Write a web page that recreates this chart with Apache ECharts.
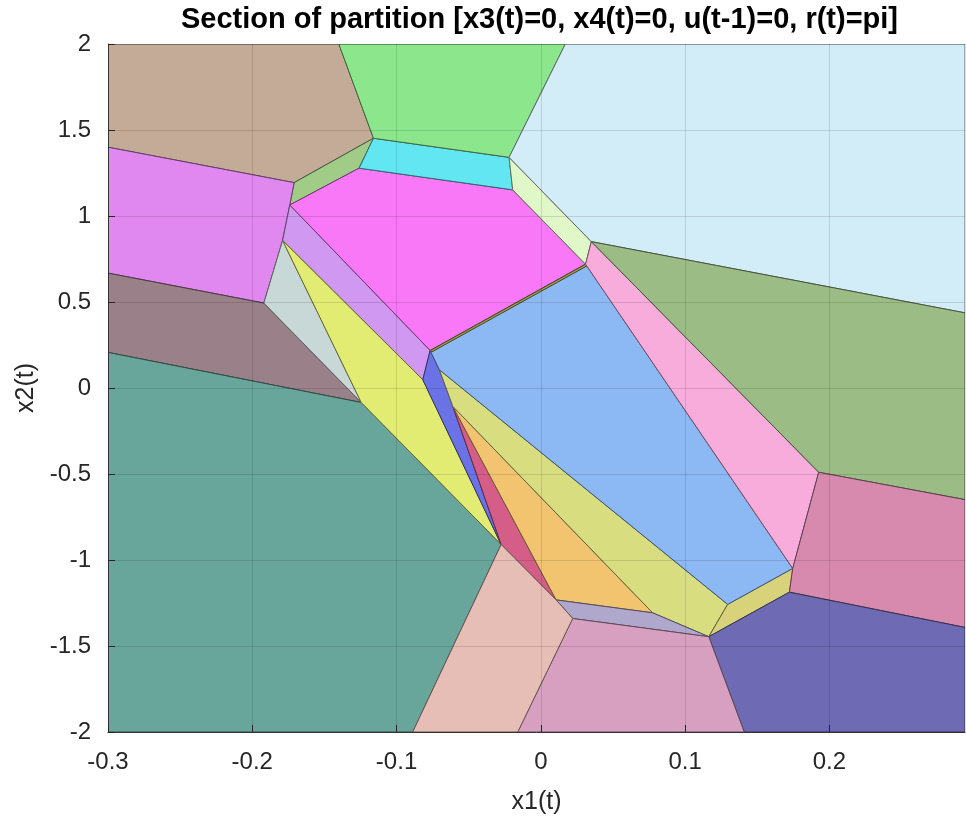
<!DOCTYPE html>
<html>
<head>
<meta charset="utf-8">
<title>Section of partition</title>
<script src="https://cdn.jsdelivr.net/npm/echarts@6/dist/echarts.min.js"></script>
<style>
  html, body { margin: 0; padding: 0; background: #fff; }
  #chart { width: 966px; height: 817px; }
</style>
</head>
<body>
<div id="chart"></div>
<script>
// axis ranges and ticks
const xRange = [-0.3, 0.294];
const yRange = [-2, 2];
const xTickStep = 0.1;
const yTickStep = 0.5;

// region vertices [x1, x2]
const rBrown = [[-0.3, 2], [-0.140, 2], [-0.116, 1.452], [-0.171, 1.194], [-0.3, 1.400]];
const rGreenSliver = [[-0.116, 1.452], [-0.126, 1.278], [-0.174, 1.064], [-0.171, 1.194]];
const rViolet = [[-0.3, 1.400], [-0.171, 1.194], [-0.174, 1.064], [-0.179, 0.858], [-0.192, 0.494], [-0.3, 0.668]];
const rMauve = [[-0.3, 0.668], [-0.192, 0.494], [-0.1245, -0.084], [-0.3, 0.207]];
const rTeal = [[-0.3, 0.207], [-0.1245, -0.084], [-0.0275, -0.910], [-0.0888, -2], [-0.3, -2]];
const rGray = [[-0.179, 0.858], [-0.192, 0.494], [-0.1245, -0.084]];
const rLavender = [[-0.174, 1.064], [-0.0767, 0.218], [-0.0818, 0.048], [-0.179, 0.858]];
const rYellow = [[-0.179, 0.858], [-0.0818, 0.048], [-0.0275, -0.910], [-0.1245, -0.084]];
const rBlue = [[-0.0767, 0.218], [-0.0703, 0.106], [-0.061, -0.107], [-0.0275, -0.910], [-0.0818, 0.048]];
const rRed = [[-0.061, -0.107], [0.0106, -1.232], [-0.0275, -0.910]];
const rOrange = [[-0.061, -0.107], [0.0775, -1.307], [0.0106, -1.232]];
const rOlive = [[-0.0703, 0.106], [0.1295, -1.258], [0.1164, -1.446], [0.0775, -1.307], [-0.061, -0.107]];
const rSlate = [[0.0106, -1.232], [0.0775, -1.307], [0.1164, -1.446], [0.0221, -1.340]];
const rOliveQuad = [[0.1295, -1.258], [0.1746, -1.049], [0.1723, -1.187], [0.1164, -1.446]];
const rSkyBlue = [[-0.0767, 0.218], [0.031, 0.720], [0.1746, -1.049], [0.1295, -1.258], [-0.0703, 0.106]];
const rThinLine = [[-0.0767, 0.218], [0.031, 0.720], [0.032, 0.710], [-0.0755, 0.210]];
const rMagenta = [[-0.174, 1.064], [-0.126, 1.278], [-0.0195, 1.152], [0.031, 0.720], [-0.0767, 0.218]];
const rCyan = [[-0.116, 1.452], [-0.022, 1.341], [-0.0195, 1.152], [-0.126, 1.278]];
const rGreenTop = [[-0.140, 2], [0.017, 2], [-0.022, 1.341], [-0.116, 1.452]];
const rPaleGreen = [[-0.022, 1.341], [0.035, 0.851], [0.031, 0.720], [-0.0195, 1.152]];
const rPaleSky = [[0.017, 2], [0.294, 2], [0.294, 0.437], [0.035, 0.851], [-0.022, 1.341]];
const rPink = [[0.035, 0.851], [0.1926, -0.490], [0.1746, -1.049], [0.031, 0.720]];
const rGreenRight = [[0.035, 0.851], [0.294, 0.437], [0.294, -0.649], [0.1926, -0.490]];
const rRose = [[0.1926, -0.490], [0.294, -0.649], [0.294, -1.392], [0.1723, -1.187], [0.1746, -1.049]];
const rPurple = [[0.1723, -1.187], [0.294, -1.392], [0.294, -2], [0.141, -2], [0.1164, -1.446]];
const rPinkBottom = [[0.0221, -1.340], [0.1164, -1.446], [0.141, -2], [-0.016, -2]];
const rBeige = [[-0.0275, -0.910], [0.0106, -1.232], [0.0221, -1.340], [-0.016, -2], [-0.0888, -2]];

const regionList = [
  rBrown, rGreenSliver, rViolet, rMauve, rTeal, rGray, rLavender, rYellow, rBlue, rRed,
  rOrange, rOlive, rSlate, rOliveQuad, rSkyBlue, rMagenta, rThinLine, rCyan, rGreenTop,
  rPaleGreen, rPaleSky, rPink, rGreenRight, rRose, rPurple, rPinkBottom, rBeige
];

const regionColors = [
  "#C3AB98", "#A0CC88", "#E088F0", "#9A8088", "#68A69C", "#C8D8D6", "#D098F0", "#E2EC72", "#6A72E6", "#D45E88",
  "#F2C470", "#D8DE80", "#B0A8CC", "#D8D27A", "#8CB8F4", "#F878F8", "#9C9C50", "#62E6F2", "#8CE68C",
  "#E0F8C8", "#D2ECF8", "#F8ACDC", "#9BBC84", "#D88AAE", "#6E6AB4", "#D8A0C0", "#E6BEB6"
];

// edge colour: the face colour, darkened
function darker(hex, k) {
  let c = echarts.color.parse(hex);
  return "rgb(" + Math.round(c[0] * k) + "," + Math.round(c[1] * k) + "," + Math.round(c[2] * k) + ")";
}

function fmt(v) {
  return String(Math.round(v * 10) / 10);
}

var chart = echarts.init(document.getElementById("chart"));

let option = {
  animation: false,
  title: {
    text: "Section of partition [x3(t)=0, x4(t)=0, u(t-1)=0, r(t)=pi]",
    left: 176,
    top: 0,
    textStyle: {
      fontFamily: "Liberation Sans",
      fontWeight: "bold",
      fontSize: 29,
      color: "#000",
    },
  },
  grid: {
    left: 108,
    right: 1,
    top: 44,
    bottom: 85,
    outerBoundsMode: "none",
  },
  xAxis: {
    type: "value",
    min: xRange[0],
    max: xRange[1],
    interval: xTickStep,
    z: 5,
    name: "x1(t)",
    nameLocation: "middle",
    nameGap: 58,
    nameTextStyle: { fontFamily: "Liberation Sans", fontSize: 25, color: "#262626" },
    axisLine: { show: true, onZero: false, lineStyle: { color: "#333", width: 1 } },
    axisTick: { show: true, inside: true, length: 7, lineStyle: { color: "#262626" } },
    axisLabel: {
      margin: 18,
      showMaxLabel: false,
      fontFamily: "Liberation Sans",
      fontSize: 24,
      color: "#262626",
      formatter: fmt,
    },
    splitLine: { show: true, lineStyle: { color: "rgba(0,0,0,0.12)", width: 1 } },
  },
  yAxis: {
    type: "value",
    min: yRange[0],
    max: yRange[1],
    interval: yTickStep,
    z: 5,
    name: "x2(t)",
    nameLocation: "middle",
    nameGap: 64,
    nameTextStyle: { fontFamily: "Liberation Sans", fontSize: 25, color: "#262626" },
    axisLine: { show: true, onZero: false, lineStyle: { color: "#333", width: 1 } },
    axisTick: { show: true, inside: true, length: 7, lineStyle: { color: "#262626" } },
    axisLabel: {
      margin: 17,
      fontFamily: "Liberation Sans",
      fontSize: 24,
      color: "#262626",
      formatter: fmt,
    },
    splitLine: { show: true, lineStyle: { color: "rgba(0,0,0,0.12)", width: 1 } },
  },
  series: [
    {
      type: "custom",
      z: 1,
      clip: true,
      data: regionList.map(function (r, i) { return [i]; }),
      renderItem: function (params, api) {
        let i = params.dataIndex;
        let pts = regionList[i].map(function (p) { return api.coord(p); });
        return {
          type: "polygon",
          shape: { points: pts },
          style: {
            fill: regionColors[i],
            stroke: darker(regionColors[i], 0.45),
            lineWidth: 1,
          },
        };
      },
    },
  ],
};
chart.setOption(option);
</script>
</body>
</html>
